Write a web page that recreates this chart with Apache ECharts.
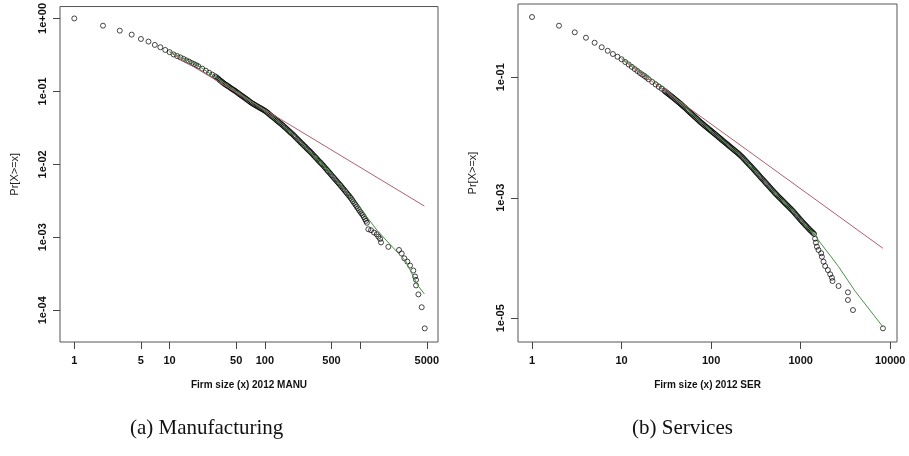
<!DOCTYPE html>
<html>
<head>
<meta charset="utf-8">
<script src="https://cdn.jsdelivr.net/npm/echarts@6/dist/echarts.min.js"></script>
<style>
html, body { margin: 0; padding: 0; background: #fff; }
#main { width: 909px; height: 456px; }
</style>
</head>
<body>
<div id="main"></div>
<script>
// empirical CCDF, manufacturing 2012
var manuX = [1,2,3,4,5,6,7,8,9,10,11,12,13,14,15,16,17,18,19,20,22,24,26,28,30,
  32,33.5,35.5,37.6,39.8,42.2,44.7,47.3,50.1,53.1,56.2,59.6,63.1,66.8,70.8,75,79.4,84.1,89.1,94.4,
  100,106,112,119,126,133,141,150,158,168,178,188,200,211,224,237,251,266,282,299,316,335,355,376,
  398,422,447,473,501,531,562,596,631,668,708,750,794,841,891,944,1000,1059,1122,1175,
  1217,1298,1396,1490,1550,1615,1652,1973,2553,2724,2904,3122,3332,3609,3758,3853,3853,4077,4417,4750];
var manuP = [1,0.796,0.68,0.60,0.523,0.482,0.434,0.403,0.37,0.345,0.321,0.305,0.292,0.279,0.266,0.256,0.245,0.237,0.229,0.221,0.205,0.192,0.180,0.170,0.161,
  0.151,0.143,0.135,0.127,0.121,0.115,0.109,0.104,0.0989,0.0933,0.0883,0.0838,0.0794,0.0752,0.0708,0.0676,0.0646,0.0619,0.0592,0.0568,
  0.0543,0.0513,0.0481,0.0452,0.0427,0.04,0.0376,0.0353,0.0331,0.0309,0.0288,0.0269,0.0251,0.0233,0.0216,0.02,0.0186,0.0173,0.016,0.0149,0.0138,0.0127,0.0117,0.0108,
  0.01,0.00916,0.00841,0.00773,0.00708,0.00649,0.00596,0.00547,0.00501,0.00457,0.00417,0.0038,0.00347,0.00311,0.00279,0.0025,0.00224,0.00203,0.00178,0.00158,
  0.00129,0.00125,0.00116,0.0011,0.00102,0.00095,0.00085,0.00074,0.00067,0.0006,0.000515,0.000464,0.00041,0.00035,0.00029,0.000261,0.000219,0.000165,0.00011,0.0000564];
// extra points in the dense black band (manufacturing)
var manuBandX = [31,32.7,34.5,36.5,38.7,41,43.4,46,48.7,51.6,54.6,57.9,61.3,64.9,68.8,72.9,77.2,81.7,86.6,91.7,97.2,
  103,109,115.5,122.5,129.5,137,145.5,154,163,173,183,194,205.5,217.5,230.5,244,258.5,274,290.5,307.5,325.5,345,365.5,
  387,410,434.5,460,487,516,546.5,579,613.5,649.5,688,729,772,817.5,866,917.5,972,1029.5,1090.5,1148.5];
var manuBandP = [0.156,0.147,0.139,0.131,0.124,0.118,0.112,0.1065,0.1015,0.096,0.0908,0.086,0.0816,0.0773,0.073,0.0692,0.0661,0.0632,0.0605,0.058,0.0555,
  0.0528,0.0497,0.0466,0.0439,0.0413,0.0388,0.0364,0.0342,0.032,0.0298,0.0278,0.026,0.0242,0.0224,0.0208,0.0193,0.0179,0.0166,0.0154,0.0143,0.0132,0.0122,0.0112,
  0.0104,0.0096,0.0088,0.00806,0.0074,0.00678,0.00622,0.00571,0.00524,0.00478,0.00437,0.00398,0.00363,0.00329,0.00295,0.00264,0.00237,0.00213,0.0019,0.00168];

// empirical CCDF, services 2012
var serX = [1,2,3,4,5,6,7,8,9,10,11,12,13,14,15,16,17,18,19,20,22,24,26,28,30,
  31.6,33.5,35.5,37.6,39.8,42.2,44.7,47.3,50.1,53.1,56.2,59.6,63.1,66.8,70.8,75,79.4,84.1,89.1,94.4,
  100,106,112,119,126,133,141,150,158,168,178,188,200,211,224,237,251,266,282,299,316,335,355,376,
  398,422,447,473,501,531,562,596,631,668,708,750,794,841,891,944,1000,1059,1122,1189,1259,1334,1413,
  1450,1480,1517,1581,1695,1726,1799,1879,2014,2138,2234,2269,2649,3373,3373,3838,8300];
var serP = [1,0.717,0.557,0.453,0.374,0.315,0.275,0.243,0.219,0.199,0.179,0.163,0.149,0.137,0.127,0.118,0.111,0.105,0.099,0.0927,0.0835,0.076,0.0695,0.0645,0.06,
  0.0562,0.0525,0.0491,0.0459,0.0427,0.0398,0.0371,0.0344,0.0319,0.0295,0.0272,0.0251,0.0233,0.0215,0.0199,0.0183,0.0171,0.0159,0.0148,0.0138,
  0.0129,0.012,0.0112,0.0104,0.00968,0.00902,0.00839,0.00782,0.00728,0.00678,0.00631,0.00589,0.00547,0.00509,0.00468,0.00427,0.00389,0.00355,0.00324,0.00295,0.00269,0.00245,0.00221,0.00202,
  0.00184,0.00167,0.00152,0.00138,0.00126,0.00115,0.00105,0.000966,0.000887,0.000813,0.000748,0.000687,0.000631,0.000575,0.000521,0.000472,0.000427,0.000389,0.000355,0.000324,0.000295,0.000272,0.000251,
  0.00021,0.00018,0.000154,0.000136,0.00012,0.000105,0.0000869,0.0000736,0.0000631,0.0000537,0.0000471,0.0000415,0.0000343,0.000027,0.0000201,0.0000137,0.0000068];
// extra points in the dense black band (services)
var serBandX = [30.8,32.5,34.5,36.5,38.7,41,43.4,46,48.7,51.6,54.6,57.9,61.3,64.9,68.8,72.9,77.2,81.7,86.6,91.7,97.2,
  103,109,115.5,122.5,129.5,137,145.5,154,163,173,183,194,205.5,217.5,230.5,244,258.5,274,290.5,307.5,325.5,345,365.5,
  387,410,434.5,460,487,516,546.5,579,613.5,649.5,688,729,772,817.5,866,917.5,972,1029.5,1090.5,1155.5,1224,1296.5,1373];
var serBandP = [0.058,0.0543,0.0508,0.0475,0.0443,0.0412,0.0384,0.0357,0.0331,0.0307,0.0283,0.0261,0.0242,0.0224,0.0207,0.0191,0.0177,0.0165,0.0153,0.0143,0.0133,
  0.0124,0.0116,0.0108,0.01,0.00935,0.0087,0.0081,0.00755,0.00703,0.00654,0.0061,0.00568,0.00528,0.00488,0.00447,0.00408,0.00372,0.0034,0.0031,0.00282,0.00257,0.00233,0.00211,
  0.00193,0.00175,0.0016,0.00145,0.00132,0.0012,0.0011,0.00101,0.000926,0.00085,0.00078,0.000717,0.000659,0.000603,0.000548,0.000496,0.000449,0.000408,0.000372,0.00034,0.00031,0.000284,0.000262];

// fitted power law (red) and lognormal (green)
var manuPowX = [10, 4710];
var manuPowP = [0.345, 0.00268];
var manuLnX = [10,20,50,100,200,500,1000,1500,2000,3000,4000,4710];
var manuLnP = [0.35,0.225,0.101,0.0545,0.0255,0.0074,0.0025,0.00125,0.00083,0.00047,0.00022,0.000167];
var serPowX = [10, 8300];
var serPowP = [0.199, 0.000145];
var serLnX = [10,30,75,130,210,350,540,830,1075,1390,1726,2330,2649,4070,8300];
var serLnP = [0.205,0.068,0.0185,0.0093,0.0051,0.00225,0.00112,0.00059,0.00038,0.000255,0.000166,0.000093,0.000072,0.000028,0.0000072];

// tick positions and labels
var manuXTicks = [1,5,10,50,100,500,1000,5000];
var manuXLabels = [1,5,10,50,100,500,5000];
var manuYTicks = [1,0.1,0.01,0.001,0.0001];
var serXTicks = [1,10,100,1000,10000];
var serYTicks = [0.1,0.001,0.00001];

function zip(a, b) {
  var out = [];
  for (var i = 0; i < a.length; i++) out.push([a[i], b[i]]);
  return out;
}
function expLabel(v) {
  var e = Math.round(Math.log10(v)), s = Math.abs(e);
  return '1e' + (e < 0 ? '-' : '+') + (s < 10 ? '0' : '') + s;
}
function numLabel(v) { return String(Math.round(v)); }

var narrow = "'Liberation Sans Narrow', 'Liberation Sans', Arial, sans-serif";
var tickFont = { fontFamily: narrow, fontWeight: 'bold', fontSize: 11, color: '#111' };

function xAxis(idx, min, max, ticks, labels, name) {
  return {
    type: 'log', logBase: 10, gridIndex: idx, min: min, max: max,
    axisLine: { show: false },
    splitLine: { show: false },
    minorTick: { show: false },
    axisTick: { show: true, customValues: ticks, length: 7, lineStyle: { color: '#444', width: 1 } },
    axisLabel: Object.assign({ customValues: labels, formatter: numLabel, margin: 13 }, tickFont),
    name: name, nameLocation: 'middle', nameGap: 38,
    nameTextStyle: { fontFamily: narrow, fontWeight: 'bold', fontSize: 10, color: '#111' }
  };
}
function yAxis(idx, min, max, ticks) {
  return {
    type: 'log', logBase: 10, gridIndex: idx, min: min, max: max,
    axisLine: { show: false },
    splitLine: { show: false },
    minorTick: { show: false },
    axisTick: { show: true, customValues: ticks, length: 7, lineStyle: { color: '#444', width: 1 } },
    axisLabel: Object.assign({ customValues: ticks, formatter: expLabel, rotate: 90, margin: 12 }, tickFont),
    name: 'Pr[X>=x]', nameLocation: 'middle', nameGap: 40, nameRotate: 90,
    nameTextStyle: { fontFamily: "'Liberation Sans', Arial, sans-serif", fontSize: 11, color: '#222' }
  };
}
function pts(idx, data) {
  return {
    type: 'scatter', xAxisIndex: idx, yAxisIndex: idx, data: data,
    symbol: 'circle', symbolSize: 5,
    itemStyle: { color: 'rgba(0,0,0,0)', borderColor: '#000', borderWidth: 0.9 }
  };
}
function fit(idx, data, color) {
  return {
    type: 'line', xAxisIndex: idx, yAxisIndex: idx, data: data,
    showSymbol: false, symbol: 'none',
    lineStyle: { color: color, width: 1 }
  };
}

var chart = echarts.init(document.getElementById('main'));
chart.setOption({
  animation: false,
  backgroundColor: '#fff',
  grid: [
    { left: 60, top: 4, width: 378, height: 338, show: true, borderColor: '#555', borderWidth: 1 },
    { left: 518, top: 4, width: 379, height: 338, show: true, borderColor: '#555', borderWidth: 1 }
  ],
  xAxis: [
    xAxis(0, 0.708, 6546, manuXTicks, manuXLabels, 'Firm size (x) 2012 MANU'),
    xAxis(1, 0.697, 11912, serXTicks, serXTicks, 'Firm size (x) 2012 SER')
  ],
  yAxis: [
    yAxis(0, 0.0000367, 1.456, manuYTicks),
    yAxis(1, 0.00000404, 1.644, serYTicks)
  ],
  series: [
    pts(0, zip(manuX, manuP).concat(zip(manuBandX, manuBandP))),
    fit(0, zip(manuPowX, manuPowP), '#B0606E'),
    fit(0, zip(manuLnX, manuLnP), '#4C8F44'),
    pts(1, zip(serX, serP).concat(zip(serBandX, serBandP))),
    fit(1, zip(serPowX, serPowP), '#B0606E'),
    fit(1, zip(serLnX, serLnP), '#4C8F44')
  ],
  graphic: [
    { type: 'text', left: 130, top: 418, style: { text: '(a) Manufacturing', font: '21px "Liberation Serif", serif', fill: '#111' } },
    { type: 'text', left: 632, top: 418, style: { text: '(b) Services', font: '21px "Liberation Serif", serif', fill: '#111' } }
  ]
});
</script>
</body>
</html>
